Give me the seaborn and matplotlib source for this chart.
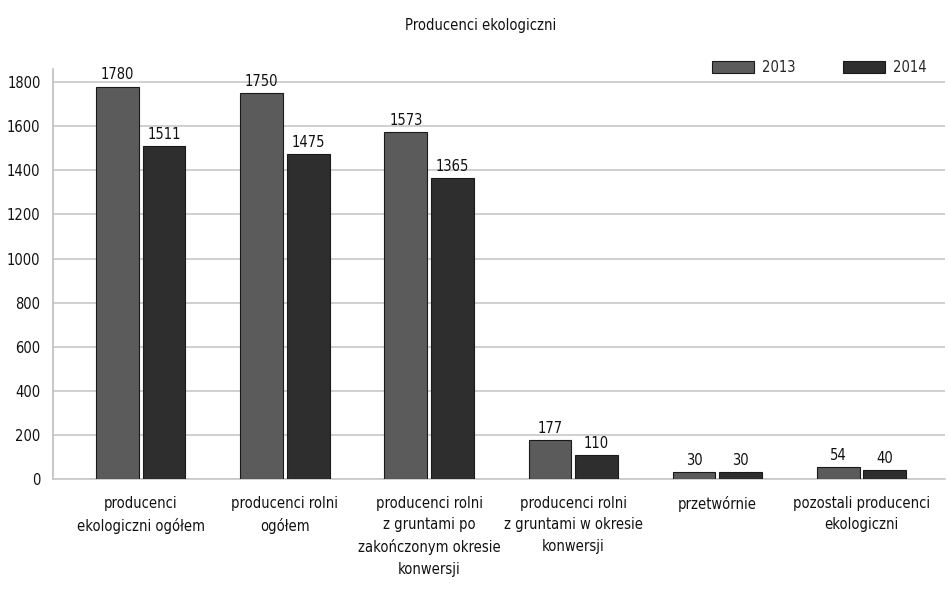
import matplotlib
matplotlib.use("Agg")
import matplotlib.pyplot as plt
import seaborn as sns
import pandas as pd
from matplotlib import font_manager as fm

categories = [
    "producenci\nekologiczni ogółem",
    "producenci rolni\nogółem",
    "producenci rolni\nz gruntami po\nzakończonym okresie\nkonwersji",
    "producenci rolni\nz gruntami w okresie\nkonwersji",
    "przetwórnie",
    "pozostali producenci\nekologiczni",
]
years = ["2013", "2014"]
values_2013 = [1780, 1750, 1573, 177, 30, 54]
values_2014 = [1511, 1475, 1365, 110, 30, 40]
yticks = [0, 200, 400, 600, 800, 1000, 1200, 1400, 1600, 1800]

df = pd.DataFrame({
    "kategoria": categories * 2,
    "rok": [years[0]] * len(categories) + [years[1]] * len(categories),
    "wartosc": values_2013 + values_2014,
})

sns.set_theme(style="white")
names = {f.name for f in fm.fontManager.ttflist}
cond = [f for f in fm.fontManager.ttflist if "Condensed" in f.fname and f.name == "DejaVu Sans"]
fam = ["Liberation Sans Narrow"] if "Liberation Sans Narrow" in names else []
plt.rcParams["font.family"] = fam + ["DejaVu Sans"]
if not fam and cond:
    plt.rcParams["font.stretch"] = "condensed"
FS = 10.5

fig = plt.figure(figsize=(9.49, 5.89), dpi=100)
ax = fig.add_axes([0.0558, 0.1868, 0.94, 0.6961])

palette = {"2013": "#5b5b5b", "2014": "#2e2e2e"}
sns.barplot(data=df, x="kategoria", y="wartosc", hue="rok", order=categories,
            hue_order=years, palette=palette, width=0.645, gap=0.08,
            edgecolor="#1a1a1a", linewidth=0.8, saturation=1, ax=ax, zorder=3)

for cont in ax.containers:
    ax.bar_label(cont, fmt="%d", padding=3, fontsize=FS, color="#111111")

ax.set_ylim(0, 1860)
ax.set_xlim(-0.61, 5.58)
ax.set_yticks(yticks)
ax.set_yticklabels([str(v) for v in yticks], fontsize=FS)
ax.yaxis.grid(True, color="#c8c8c8", linewidth=1.2, zorder=0)
ax.set_axisbelow(True)
ax.tick_params(axis="both", length=0, colors="#111111")
ax.tick_params(axis="y", pad=9)
ax.tick_params(axis="x", pad=12)
for lbl in ax.get_xticklabels():
    lbl.set_fontsize(FS)
    lbl.set_linespacing(1.55)
ax.set_xlabel("")
ax.set_ylabel("")
for s in ["top", "right"]:
    ax.spines[s].set_visible(False)
ax.spines["left"].set_color("#bdbdbd")
ax.spines["left"].set_linewidth(1.2)
ax.spines["bottom"].set_color("#c8c8c8")
ax.spines["bottom"].set_linewidth(1.2)

leg = ax.legend(loc="center right", bbox_to_anchor=(0.990, 0.885),
                bbox_transform=fig.transFigure, ncol=2, frameon=False,
                fontsize=FS, handlelength=2.9, handleheight=0.9,
                columnspacing=3.3, handletextpad=0.5)

fig.text(0.506, 0.957, "Producenci ekologiczni", ha="center", va="center",
         fontsize=FS, color="#111111")

fig.savefig("out.png", dpi=100)
